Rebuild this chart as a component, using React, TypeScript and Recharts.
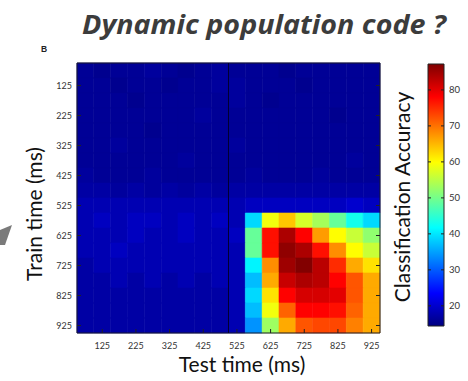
import { ReferenceArea, ReferenceLine, Scatter, ScatterChart, XAxis, YAxis, Label } from "recharts";

// time bins (ms), each bin is 50 ms wide, centred on these values
const testTimes = [75, 125, 175, 225, 275, 325, 375, 425, 475, 525, 575, 625, 675, 725, 775, 825, 875, 925];
const trainTimes = [75, 125, 175, 225, 275, 325, 375, 425, 475, 525, 575, 625, 675, 725, 775, 825, 875, 925];
const timeTicks = [125, 225, 325, 425, 525, 625, 725, 825, 925];
const colorTicks = [20, 30, 40, 50, 60, 70, 80];
const accMin = 14.4;
const accMax = 87.2;

// classification accuracy, rows = train time (top to bottom), cols = test time
const accuracy = [
  [16, 15.5, 16, 16, 16.5, 16, 15.5, 16, 16.5, 16, 16, 16, 15.5, 16, 16, 16, 16, 16],
  [16, 16, 15.5, 16, 16, 15.5, 16, 16, 16.5, 16.5, 16, 16, 16, 15.5, 16, 16, 16, 16],
  [16, 16, 16, 15.5, 16, 16, 16, 16, 16, 16.5, 16, 15.5, 16, 16, 16, 16, 16, 16],
  [16, 16, 16, 16, 16, 16, 16, 16.5, 16, 16, 16, 16, 16, 16, 16, 15.5, 16, 16],
  [16, 16, 16, 16, 15.5, 16, 16, 16, 16, 16, 16, 16, 16, 16, 16, 16, 16, 16],
  [16, 16, 16.5, 16, 16, 16, 16, 16, 16, 16.5, 16, 16, 16, 16, 16, 16, 16, 16],
  [16, 16, 16, 16, 16, 16, 16.5, 16, 16, 16, 16, 16, 16, 16, 16, 16, 16.5, 16],
  [16.5, 16, 16, 16, 16.5, 16, 16, 16, 16, 16, 16.5, 16, 16, 16, 16.5, 16, 16, 16],
  [17, 17, 16.5, 17, 16.5, 17, 16.5, 17, 16.5, 17, 17, 17, 17, 17, 17, 17, 17, 17],
  [18, 18, 18, 18, 18, 18, 18, 18, 18, 18, 19, 19, 19, 19, 19, 19, 20, 19],
  [18, 19, 18, 19, 19, 18, 19, 18, 19, 18, 39, 59, 64, 57, 53.5, 49, 43, 39],
  [18, 18, 18, 19, 18, 18, 19, 18, 18, 19, 49, 77, 84, 78, 67, 60, 56, 52],
  [18, 18, 19, 18, 18, 18, 18, 18, 18, 18, 49, 77, 86, 84, 77, 68, 60, 56],
  [17, 18, 18, 18, 18, 18, 18, 18, 18, 18, 41, 68, 85, 87, 83, 75, 66, 62],
  [17, 17, 18, 17, 18, 17, 18, 17, 18, 18, 37, 66, 82, 84, 83, 78, 72, 66],
  [17, 17, 17, 17, 17, 17, 17, 17, 17, 18, 39, 62, 78, 81, 81, 80, 72, 66],
  [17, 17, 17, 17, 17, 17, 17, 17, 17, 18, 37, 59, 71, 78, 78, 77, 71, 66],
  [17, 17, 17, 17, 17, 17, 17, 17, 17, 18, 34, 53, 66, 72, 73, 73, 69, 66],
];

const W = 468;
const H = 381;
const HALF = 25;
const PLOT_RIGHT = W - 88;
const CB_W = 16;
const FONT = "Lato, 'Open Sans', sans-serif";

const cells = accuracy.flatMap((row, r) =>
  row.map((v, c) => ({ x: testTimes[c], y: trainTimes[r], v }))
);

function jet(v: number) {
  const f = Math.max(0, Math.min(1, (v - accMin) / (accMax - accMin)));
  const ch = (o: number) => Math.round(255 * Math.max(0, Math.min(1, 1.5 - Math.abs(4 * f - o))));
  return `rgb(${ch(3)},${ch(2)},${ch(1)})`;
}

function XTick(props: any) {
  const { x, y, payload } = props;
  return (
    <g>
      <line x1={x} x2={x} y1={y - 8} y2={y - 12} stroke="#222" strokeWidth={1} />
      <text x={x} y={y + 8} textAnchor="middle" fontSize={9} fontFamily={FONT} fill="#333">
        {payload.value}
      </text>
    </g>
  );
}

function YTick(props: any) {
  const { x, y, payload } = props;
  return (
    <g>
      <line x1={x + 5} x2={x + 9} y1={y} y2={y} stroke="#222" strokeWidth={1} />
      <line x1={PLOT_RIGHT - 4} x2={PLOT_RIGHT} y1={y} y2={y} stroke="#222" strokeWidth={1} />
      <text x={x} y={y + 3} textAnchor="end" fontSize={9} fontFamily={FONT} fill="#333">
        {payload.value}
      </text>
    </g>
  );
}

function CbTick(props: any) {
  const { x, y, payload } = props;
  return (
    <g>
      <line x1={x - 5} x2={x - 8} y1={y} y2={y} stroke="#222" strokeWidth={1} />
      <line x1={x - 5 - CB_W} x2={x - 2 - CB_W} y1={y} y2={y} stroke="#222" strokeWidth={1} />
      <text x={x} y={y + 3.5} textAnchor="start" fontSize={9.5} fontFamily={FONT} fill="#333">
        {payload.value}
      </text>
    </g>
  );
}

export default function App() {
  return (
    <div style={{ position: "absolute", left: 0, top: 0, width: W, height: H, background: "#fff", overflow: "hidden" }}>
      <div style={{ position: "absolute", left: 0, top: 0 }}>
        <ScatterChart width={W} height={H} margin={{ top: 63, right: 88, bottom: 0, left: 0 }}>
          <XAxis
            type="number"
            dataKey="x"
            domain={[50, 950]}
            ticks={timeTicks}
            interval={0}
            height={48}
            axisLine={false}
            tickLine={false}
            tickSize={0}
            tickMargin={8}
            tick={<XTick />}
            allowDataOverflow
          >
            <Label
              content={() => (
                <text x={242} y={372} textAnchor="middle" fontSize={21} fontFamily={FONT} fill="#111">
                  Test time (ms)
                </text>
              )}
            />
          </XAxis>
          <YAxis
            type="number"
            dataKey="y"
            domain={[50, 950]}
            reversed
            ticks={timeTicks}
            interval={0}
            width={77}
            axisLine={false}
            tickLine={false}
            tickSize={0}
            tickMargin={5}
            tick={<YTick />}
            allowDataOverflow
          >
            <Label
              content={() => (
                <text
                  x={42}
                  y={214}
                  transform="rotate(-90 42 214)"
                  textAnchor="middle"
                  fontSize={21}
                  fontFamily={FONT}
                  fill="#111"
                >
                  Train time (ms)
                </text>
              )}
            />
          </YAxis>
          {cells.map((c) => (
            <ReferenceArea
              key={`c-${c.x}-${c.y}`}
              x1={c.x - HALF}
              x2={c.x + HALF}
              y1={c.y - HALF}
              y2={c.y + HALF}
              fill={jet(c.v)}
              fillOpacity={1}
              stroke={jet(c.v)}
              strokeWidth={0.6}
              ifOverflow="visible"
            />
          ))}
          <ReferenceLine x={500} stroke="#000030" strokeWidth={1} />
          <ReferenceArea x1={50} x2={950} y1={50} y2={950} fill="none" fillOpacity={0} stroke="#1a1a2a" strokeWidth={1} />
          <Scatter data={cells} dataKey="v" shape={() => <g />} isAnimationActive={false} />
        </ScatterChart>
      </div>

      <div style={{ position: "absolute", left: 0, top: 0 }}>
        <ScatterChart width={W} height={H} margin={{ top: 64, right: 0, bottom: 55, left: 428 }}>
          <defs>
            <linearGradient id="jetBar" x1="0" y1="1" x2="0" y2="0">
              <stop offset="0" stopColor="#00007f" />
              <stop offset="0.125" stopColor="#0000ff" />
              <stop offset="0.375" stopColor="#00ffff" />
              <stop offset="0.625" stopColor="#ffff00" />
              <stop offset="0.875" stopColor="#ff0000" />
              <stop offset="1" stopColor="#7f0000" />
            </linearGradient>
          </defs>
          <XAxis type="number" dataKey="x" domain={[0, 1]} hide />
          <YAxis
            type="number"
            dataKey="y"
            orientation="right"
            domain={[accMin, accMax]}
            ticks={colorTicks}
            interval={0}
            width={24}
            axisLine={false}
            tickLine={false}
            tickSize={0}
            tickMargin={5}
            tick={<CbTick />}
            allowDataOverflow
          />
          <ReferenceArea
            x1={0}
            x2={1}
            y1={accMin}
            y2={accMax}
            fill="url(#jetBar)"
            fillOpacity={1}
            stroke="#222"
            strokeWidth={1}
          />
          <Scatter
            data={colorTicks.map((t) => ({ x: 0.5, y: t }))}
            shape={() => <g />}
            isAnimationActive={false}
          />
        </ScatterChart>
      </div>

      <svg width={W} height={H} style={{ position: "absolute", left: 0, top: 0, pointerEvents: "none" }}>
        <text
          x={264}
          y={33.5}
          textAnchor="middle"
          fontSize={27}
          fontWeight={700}
          fontStyle="italic"
          fontFamily="'Open Sans', Lato, sans-serif"
          fill="#3c3c3c"
          textLength={364}
          lengthAdjust="spacingAndGlyphs"
        >
          Dynamic population code ?
        </text>
        <text x={41} y={52} fontSize={8.5} fontWeight={700} fontFamily="'Liberation Sans', Arial, sans-serif" fill="#222">
          B
        </text>
        <text
          x={410}
          y={197}
          transform="rotate(-90 410 197)"
          textAnchor="middle"
          fontSize={21}
          fontFamily={FONT}
          fill="#111"
        >
          Classification Accuracy
        </text>
        <polygon points="0,230 12,225 5,245 0,245" fill="#7a7a7a" />
      </svg>
    </div>
  );
}
